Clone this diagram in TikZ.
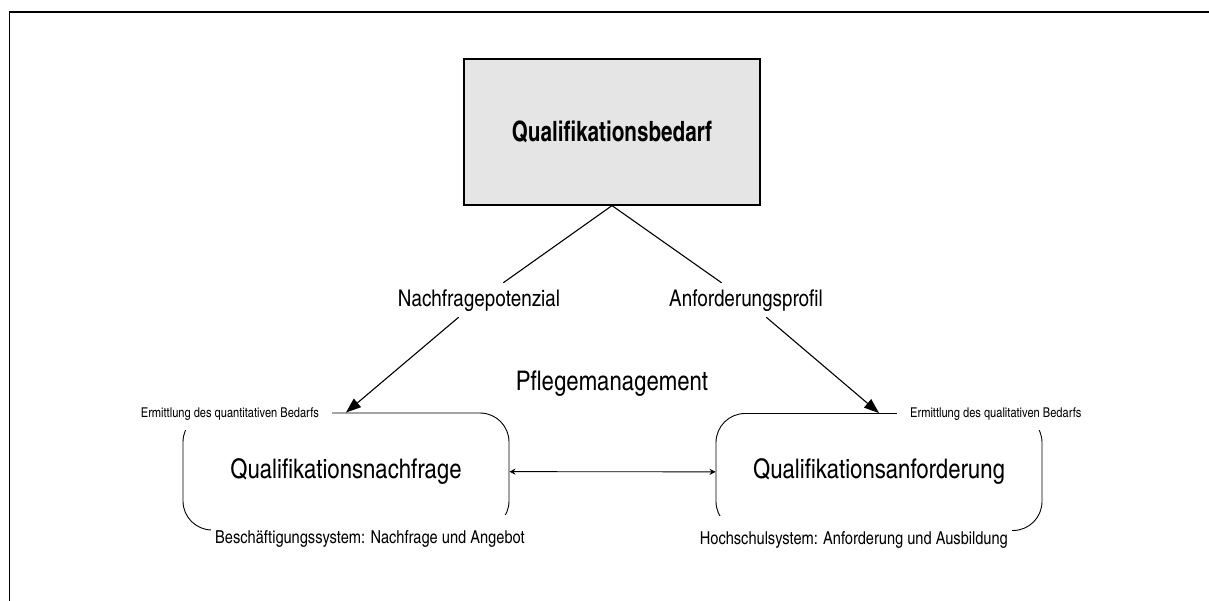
\documentclass[tikz,border=0pt]{standalone}
\usepackage{fontspec}
\setmainfont{texgyreheroscn}[Extension=.otf, UprightFont=*-regular, BoldFont=*-bold, ItalicFont=*-italic, BoldItalicFont=*-bolditalic]
\usetikzlibrary{arrows.meta}

\begin{document}
\begin{tikzpicture}[x=1pt, y=-1pt,
  frameline/.style={line width=1.1pt},
  topbox/.style={draw, line width=1.2pt, fill=black!10, minimum width=296pt, minimum height=146pt, inner sep=0pt, font=\fontsize{28}{30}\selectfont\bfseries},
  areabox/.style={draw, line width=0.9pt, rounded corners=29pt, minimum width=326pt, minimum height=117pt, inner sep=0pt, font=\fontsize{27}{30}\selectfont},
  linklabel/.style={inner xsep=2pt, inner ysep=7pt, font=\fontsize{23}{26}\selectfont, text height=16pt, text depth=4pt},
  centerlabel/.style={font=\fontsize{27}{30}\selectfont},
  smallnote/.style={fill=white, inner xsep=13pt, inner ysep=10pt, font=\fontsize{13.5}{15}\selectfont, text height=9pt, text depth=3pt},
  basenote/.style={fill=white, inner xsep=4pt, inner ysep=2.5pt, font=\fontsize{17.8}{20}\selectfont, text height=26pt, text depth=5pt},
  bigarrow/.style={line width=1.1pt, -{Triangle[length=15pt, width=11pt]}},
  smallarrow/.style={line width=0.9pt, {Stealth[length=6pt, width=6pt]}-{Stealth[length=6pt, width=6pt]}}
]
\useasboundingbox (0,0) rectangle (1209,601);
% outer frame (top and left edges)
\draw[frameline] (9.5,601) -- (9.5,12) -- (1209,12);

% main boxes
\node[topbox] (bedarf) at (612,132) {\scalebox{0.9}[1]{Qualifikationsbedarf}};
\node[areabox] (nachfrage) at (346,471.5) {Qualifikationsnachfrage};
\node[areabox] (anforderung) at (879,472) {Qualifikationsanforderung};

% labels on the connectors and in the middle
\node[linklabel] (potenzial) at (479,300) {Nachfragepotenzial};
\node[linklabel] (profil) at (746,300) {Anforderungsprofil};
\node[centerlabel] (pflege) at (612,384) {Pflegemanagement};

% connectors
\draw[bigarrow] (bedarf.south) -- (potenzial) -- (nachfrage.north);
\draw[bigarrow] (bedarf.south) -- (profil) -- (anforderung.north);
\draw[smallarrow] (nachfrage) -- (anforderung);

% notes laid over the box outlines
\node[smallnote, anchor=base east] (quant) at (332,417) {Ermittlung des quantitativen Bedarfs};
\node[smallnote, anchor=base west] (qual) at (897,417) {Ermittlung des qualitativen Bedarfs};
\node[basenote, anchor=base west] (beschaeftigung) at (211,543.5) {Beschäftigungssystem: Nachfrage und Angebot};
\node[basenote, anchor=base east] (hochschule) at (1012,544) {Hochschulsystem: Anforderung und Ausbildung};
\end{tikzpicture}
\end{document}
